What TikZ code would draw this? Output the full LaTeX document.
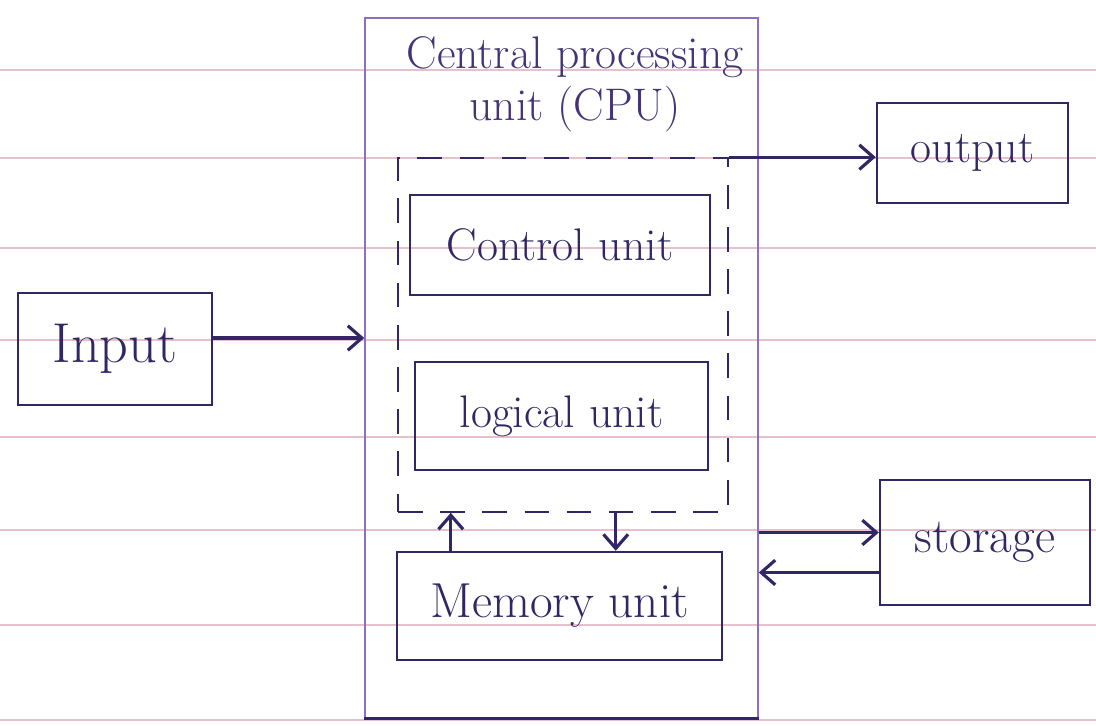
\documentclass[tikz,border=0pt]{standalone}
\usepackage{tikz}
\usetikzlibrary{calc,arrows.meta}

\definecolor{pen}{RGB}{50,38,100}
\definecolor{thinpen}{RGB}{140,110,195}
\definecolor{ruled}{RGB}{230,192,202}

\tikzset{
  unitbox/.style={draw=pen, line width=1.4pt, minimum width=#1},
  lbl/.style={text=pen, font=\fontsize{26}{30}\selectfont},
  arrow/.style={draw=pen, line width=1.8pt, -{Straight Barb[length=8pt,width=14pt]}}
}

\begin{document}
\begin{tikzpicture}[x=0.02cm, y=-0.02cm]
\useasboundingbox (0,0) rectangle (1096,726);

%RULED PAPER
\foreach \y in {70,158,248,340,437,530,625,720}
  \draw[ruled, line width=0.8pt] (0,\y) -- (1096,\y);

%CPU
\node[draw=thinpen, line width=0.9pt, minimum width=7.86cm, minimum height=14cm] (cpu) at (561.5,368) {};
\draw[pen, line width=1.6pt] (cpu.south west) -- (cpu.south east);
\node[lbl, text=pen!80!thinpen, align=center, anchor=north] (cputitle) at (575,30) {Central processing\\unit (CPU)};
\node[draw=pen, line width=1pt, dashed, dash pattern=on 14pt off 10pt, minimum width=6.6cm, minimum height=7.08cm] (inner) at (563,335) {};

\node[unitbox=6cm, minimum height=2cm, lbl] (ctrl) at (560,245) {Control unit};
\node[unitbox=5.86cm, minimum height=2.16cm, lbl] (logic) at (561.5,416) {logical unit};
\node[unitbox=6.5cm, minimum height=2.16cm, lbl, font=\fontsize{28}{30}\selectfont] (mem) at (559.5,606) {Memory unit};

%OUTSIDE UNITS
\node[unitbox=3.88cm, minimum height=2.24cm, lbl, font=\fontsize{32}{34}\selectfont] (inp) at (115,349) {Input};
\node[unitbox=3.82cm, minimum height=2cm, lbl] (outp) at (972.5,153) {output};
\node[unitbox=4.2cm, minimum height=2.5cm, lbl, font=\fontsize{28}{30}\selectfont] (store) at (985,542.5) {storage};

%ARROWS
\coordinate (i1) at ([yshift=0.22cm]inp.east);
\draw[arrow] (i1) -- (i1 -| cpu.west);
\draw[arrow] (inner.north east) -- (inner.north east -| outp.west);

\coordinate (s1) at ([yshift=0.2cm]store.west);
\coordinate (s2) at ([yshift=-0.6cm]store.west);
\draw[arrow] (s1 -| cpu.east) -- (s1);
\draw[arrow] (s2) -- (s2 -| cpu.east);

\coordinate (m1) at ([xshift=1.1cm]mem.north west);
\coordinate (m2) at ([xshift=4.4cm]mem.north west);
\draw[arrow] (m1) -- (m1 |- inner.south);
\draw[arrow] (m2 |- inner.south) -- (m2);

\end{tikzpicture}
\end{document}
